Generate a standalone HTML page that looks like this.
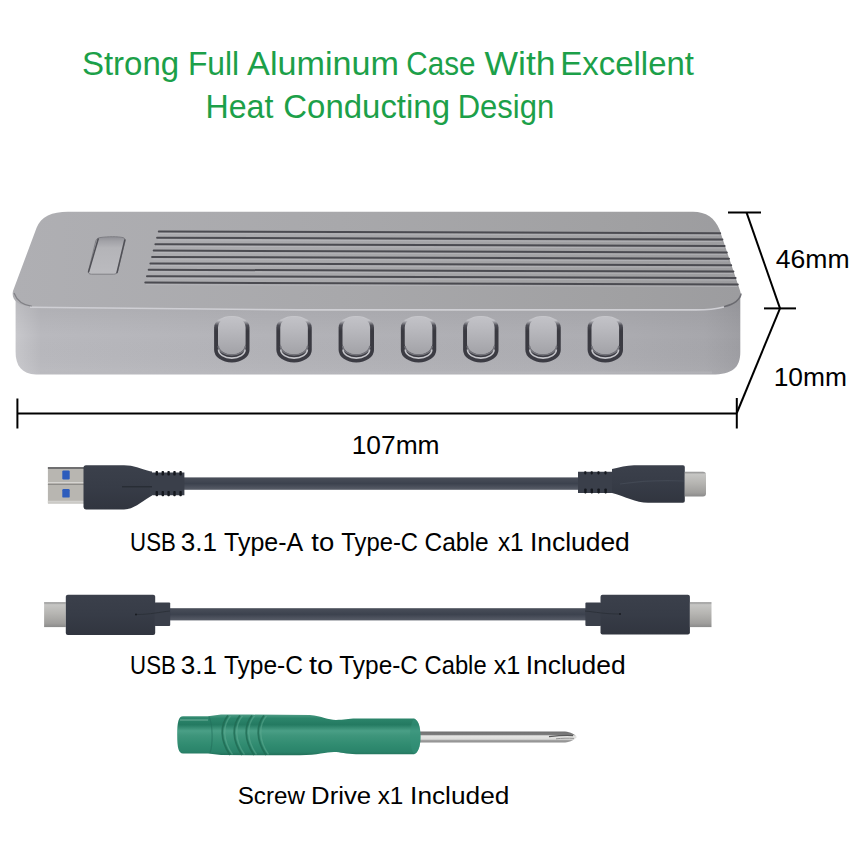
<!DOCTYPE html>
<html><head><meta charset="utf-8">
<style>
html,body{margin:0;padding:0;background:#fff;width:850px;height:850px;overflow:hidden}
svg{display:block}
text{font-family:"Liberation Sans",sans-serif}
</style></head>
<body>
<svg width="850" height="850" viewBox="0 0 850 850">
<defs>
  <linearGradient id="sideG" x1="0" y1="0" x2="1" y2="0">
    <stop offset="0" stop-color="#c8c8cc"/>
    <stop offset="0.035" stop-color="#b9b9be"/>
    <stop offset="0.4" stop-color="#b2b2b7"/>
    <stop offset="0.8" stop-color="#adadb2"/>
    <stop offset="0.95" stop-color="#a7a7ac"/>
    <stop offset="1" stop-color="#9e9ea3"/>
  </linearGradient>
  <linearGradient id="sideV" x1="0" y1="0" x2="0" y2="1">
    <stop offset="0" stop-color="#000" stop-opacity="0.07"/>
    <stop offset="0.5" stop-color="#000" stop-opacity="0"/>
    <stop offset="1" stop-color="#fff" stop-opacity="0.05"/>
  </linearGradient>
  <linearGradient id="topG" x1="0" y1="0" x2="1" y2="0">
    <stop offset="0" stop-color="#afafb3"/>
    <stop offset="0.45" stop-color="#a8a8ab"/>
    <stop offset="0.85" stop-color="#a0a0a2"/>
    <stop offset="1" stop-color="#9c9c9f"/>
  </linearGradient>
  <linearGradient id="slotG" x1="0" y1="0" x2="0" y2="1">
    <stop offset="0" stop-color="#8f8f95"/>
    <stop offset="0.12" stop-color="#a2a2a7"/>
    <stop offset="0.3" stop-color="#b4b4b8"/>
    <stop offset="1" stop-color="#bbbbbf"/>
  </linearGradient>
  <linearGradient id="btnOut" x1="0" y1="0" x2="0" y2="1">
    <stop offset="0" stop-color="#cbcbcf"/>
    <stop offset="0.1" stop-color="#bfbfc4"/>
    <stop offset="0.2" stop-color="#4e4e56"/>
    <stop offset="0.32" stop-color="#393940"/>
    <stop offset="1" stop-color="#3c3c44"/>
  </linearGradient>
  <linearGradient id="btnIn" x1="0" y1="0" x2="0" y2="1">
    <stop offset="0" stop-color="#c3c3c8"/>
    <stop offset="0.45" stop-color="#b5b5ba"/>
    <stop offset="1" stop-color="#a2a2a7"/>
  </linearGradient>
  <linearGradient id="metalA" x1="0" y1="0" x2="0" y2="1">
    <stop offset="0" stop-color="#d0d0d0"/>
    <stop offset="0.45" stop-color="#bdbdbd"/>
    <stop offset="0.5" stop-color="#8f8f8f"/>
    <stop offset="0.56" stop-color="#c4c4c4"/>
    <stop offset="1" stop-color="#a8a8a8"/>
  </linearGradient>
  <linearGradient id="metalC" x1="0" y1="0" x2="0" y2="1">
    <stop offset="0" stop-color="#8e8e8e"/>
    <stop offset="0.1" stop-color="#c6c6c4"/>
    <stop offset="0.45" stop-color="#b6b5b2"/>
    <stop offset="0.85" stop-color="#9f9e9c"/>
    <stop offset="1" stop-color="#8a8a8a"/>
  </linearGradient>
  <linearGradient id="cableG" x1="0" y1="0" x2="0" y2="1">
    <stop offset="0" stop-color="#4a4f5a"/>
    <stop offset="0.5" stop-color="#3c424e"/>
    <stop offset="1" stop-color="#585d68"/>
  </linearGradient>
  <linearGradient id="housG" x1="0" y1="0" x2="0" y2="1">
    <stop offset="0" stop-color="#3b404b"/>
    <stop offset="0.5" stop-color="#373c47"/>
    <stop offset="1" stop-color="#31353f"/>
  </linearGradient>
  <linearGradient id="sdG" x1="0" y1="0" x2="0" y2="1">
    <stop offset="0" stop-color="#4f9c85"/>
    <stop offset="0.09" stop-color="#2c856b"/>
    <stop offset="0.25" stop-color="#247a61"/>
    <stop offset="0.4" stop-color="#4a9f86"/>
    <stop offset="0.52" stop-color="#3e957b"/>
    <stop offset="0.75" stop-color="#308b70"/>
    <stop offset="0.92" stop-color="#2a836a"/>
    <stop offset="1" stop-color="#23705a"/>
  </linearGradient>
  <linearGradient id="shaftG" x1="0" y1="0" x2="0" y2="1">
    <stop offset="0" stop-color="#707070"/>
    <stop offset="0.3" stop-color="#7e7e7e"/>
    <stop offset="0.38" stop-color="#e6e6e4"/>
    <stop offset="0.7" stop-color="#dcdcda"/>
    <stop offset="0.8" stop-color="#a2a2a2"/>
    <stop offset="1" stop-color="#8c8c8c"/>
  </linearGradient>
</defs>
<path d="M15.6 296 H740.3 V352 C740.3 368 732 374.5 712 374.5 H36 C22 374 15.6 366 15.6 352 Z" fill="url(#sideG)"/>
<path d="M15.6 296 H740.3 V352 C740.3 368 732 374.5 712 374.5 H36 C22 374 15.6 366 15.6 352 Z" fill="url(#sideV)"/>
<path d="M40 372.5 H712" stroke="#b9b9be" stroke-width="2" opacity="0.5"/>
<path d="M68 211.8 H693 C706 211.8 715 218 719.5 229.6 L740 290.5 C742.6 298 738.5 304 728 305.6 C721 307 712 309.8 695 310.2 H300 L30 306.2 C18 305.2 11 300 13 291 L36.5 228 C41 216.5 52 211.8 68 211.8 Z" fill="url(#topG)"/>
<path d="M14 293 C17 301 22 305 32 306.4" stroke="#6e6e74" stroke-width="1.2" fill="none" opacity="0.7"/>
<path d="M30 307.2 L300 309.9 H695 C710 310 718 308.5 724 307" stroke="#cfcfd4" stroke-width="1.6" fill="none"/>
<path d="M724 306.6 C733 304.5 740 300 741.2 293.5" stroke="#5e5e64" stroke-width="1.4" fill="none" opacity="0.8"/>
<path d="M100 237.6 C108 236.4 118 236.4 123 237.6 C125 238.2 125.6 239.5 125 241.5 L117.6 271.5 C117 273.5 115.5 274.2 113.5 274.2 H91.5 C89 274.2 88 273 88.5 271 L95.8 241 C96.4 239 97.8 238 100 237.6 Z" fill="url(#slotG)"/>
<path d="M100 237.6 C108 236.4 118 236.4 123 237.6 C125 238.2 125.6 239.5 125 241.5 L117.6 271.5 C117 273.5 115.5 274.2 113.5 274.2 H91.5 C89 274.2 88 273 88.5 271 L95.8 241 C96.4 239 97.8 238 100 237.6 Z" fill="none" stroke="#7a7a80" stroke-width="0.9"/>
<path d="M98.2 239 L88.6 271.8" stroke="#505056" stroke-width="1.5" fill="none" stroke-linecap="round"/>
<path d="M124.8 240 L117 272.6" stroke="#505056" stroke-width="1.5" fill="none" stroke-linecap="round"/>
<g stroke-linecap="round"><path d="M158.8 231.4 L720.2 233.2" stroke="#4b4b51" stroke-width="2"/><path d="M159.8 233.4 L719.2 235.2" stroke="#bdbdc2" stroke-width="1" opacity="0.6"/><path d="M157.1 237.8 L722.4 239.6" stroke="#4b4b51" stroke-width="2"/><path d="M158.1 239.8 L721.4 241.6" stroke="#bdbdc2" stroke-width="1" opacity="0.6"/><path d="M155.4 244.2 L724.6 246.0" stroke="#4b4b51" stroke-width="2"/><path d="M156.4 246.2 L723.6 248.0" stroke="#bdbdc2" stroke-width="1" opacity="0.6"/><path d="M153.7 250.6 L726.8 252.4" stroke="#4b4b51" stroke-width="2"/><path d="M154.7 252.6 L725.8 254.4" stroke="#bdbdc2" stroke-width="1" opacity="0.6"/><path d="M152.1 257.0 L729.0 258.8" stroke="#4b4b51" stroke-width="2"/><path d="M153.1 259.0 L728.0 260.8" stroke="#bdbdc2" stroke-width="1" opacity="0.6"/><path d="M150.4 263.4 L731.2 265.2" stroke="#4b4b51" stroke-width="2"/><path d="M151.4 265.4 L730.2 267.2" stroke="#bdbdc2" stroke-width="1" opacity="0.6"/><path d="M148.7 269.8 L733.4 271.6" stroke="#4b4b51" stroke-width="2"/><path d="M149.7 271.8 L732.4 273.6" stroke="#bdbdc2" stroke-width="1" opacity="0.6"/><path d="M147.0 276.2 L735.6 278.0" stroke="#4b4b51" stroke-width="2"/><path d="M148.0 278.2 L734.6 280.0" stroke="#bdbdc2" stroke-width="1" opacity="0.6"/><path d="M145.3 282.6 L737.8 284.4" stroke="#4b4b51" stroke-width="2"/><path d="M146.3 284.6 L736.8 286.4" stroke="#bdbdc2" stroke-width="1" opacity="0.6"/></g>
<g transform="translate(214.10 316.0)">
<path d="M0 11.5 A17.7 11.5 0 0 1 35.4 11.5 V34 A17.7 12.5 0 0 1 0 34 Z" fill="url(#btnOut)"/>
<path d="M3.9 11.5 A13.8 11 0 0 1 31.5 11.5 V28 A13.8 10.5 0 0 1 3.9 28 Z" fill="url(#btnIn)"/>
<path d="M4.2 30 A13.5 9 0 0 0 31.2 30" stroke="#74747b" stroke-width="1.6" fill="none"/>
<path d="M4.4 33.5 A13.3 8.6 0 0 0 31 33.5" stroke="#c4c4c9" stroke-width="1.6" fill="none"/>
</g><g transform="translate(276.35 316.0)">
<path d="M0 11.5 A17.7 11.5 0 0 1 35.4 11.5 V34 A17.7 12.5 0 0 1 0 34 Z" fill="url(#btnOut)"/>
<path d="M3.9 11.5 A13.8 11 0 0 1 31.5 11.5 V28 A13.8 10.5 0 0 1 3.9 28 Z" fill="url(#btnIn)"/>
<path d="M4.2 30 A13.5 9 0 0 0 31.2 30" stroke="#74747b" stroke-width="1.6" fill="none"/>
<path d="M4.4 33.5 A13.3 8.6 0 0 0 31 33.5" stroke="#c4c4c9" stroke-width="1.6" fill="none"/>
</g><g transform="translate(338.60 316.0)">
<path d="M0 11.5 A17.7 11.5 0 0 1 35.4 11.5 V34 A17.7 12.5 0 0 1 0 34 Z" fill="url(#btnOut)"/>
<path d="M3.9 11.5 A13.8 11 0 0 1 31.5 11.5 V28 A13.8 10.5 0 0 1 3.9 28 Z" fill="url(#btnIn)"/>
<path d="M4.2 30 A13.5 9 0 0 0 31.2 30" stroke="#74747b" stroke-width="1.6" fill="none"/>
<path d="M4.4 33.5 A13.3 8.6 0 0 0 31 33.5" stroke="#c4c4c9" stroke-width="1.6" fill="none"/>
</g><g transform="translate(400.85 316.0)">
<path d="M0 11.5 A17.7 11.5 0 0 1 35.4 11.5 V34 A17.7 12.5 0 0 1 0 34 Z" fill="url(#btnOut)"/>
<path d="M3.9 11.5 A13.8 11 0 0 1 31.5 11.5 V28 A13.8 10.5 0 0 1 3.9 28 Z" fill="url(#btnIn)"/>
<path d="M4.2 30 A13.5 9 0 0 0 31.2 30" stroke="#74747b" stroke-width="1.6" fill="none"/>
<path d="M4.4 33.5 A13.3 8.6 0 0 0 31 33.5" stroke="#c4c4c9" stroke-width="1.6" fill="none"/>
</g><g transform="translate(463.10 316.0)">
<path d="M0 11.5 A17.7 11.5 0 0 1 35.4 11.5 V34 A17.7 12.5 0 0 1 0 34 Z" fill="url(#btnOut)"/>
<path d="M3.9 11.5 A13.8 11 0 0 1 31.5 11.5 V28 A13.8 10.5 0 0 1 3.9 28 Z" fill="url(#btnIn)"/>
<path d="M4.2 30 A13.5 9 0 0 0 31.2 30" stroke="#74747b" stroke-width="1.6" fill="none"/>
<path d="M4.4 33.5 A13.3 8.6 0 0 0 31 33.5" stroke="#c4c4c9" stroke-width="1.6" fill="none"/>
</g><g transform="translate(525.35 316.0)">
<path d="M0 11.5 A17.7 11.5 0 0 1 35.4 11.5 V34 A17.7 12.5 0 0 1 0 34 Z" fill="url(#btnOut)"/>
<path d="M3.9 11.5 A13.8 11 0 0 1 31.5 11.5 V28 A13.8 10.5 0 0 1 3.9 28 Z" fill="url(#btnIn)"/>
<path d="M4.2 30 A13.5 9 0 0 0 31.2 30" stroke="#74747b" stroke-width="1.6" fill="none"/>
<path d="M4.4 33.5 A13.3 8.6 0 0 0 31 33.5" stroke="#c4c4c9" stroke-width="1.6" fill="none"/>
</g><g transform="translate(587.60 316.0)">
<path d="M0 11.5 A17.7 11.5 0 0 1 35.4 11.5 V34 A17.7 12.5 0 0 1 0 34 Z" fill="url(#btnOut)"/>
<path d="M3.9 11.5 A13.8 11 0 0 1 31.5 11.5 V28 A13.8 10.5 0 0 1 3.9 28 Z" fill="url(#btnIn)"/>
<path d="M4.2 30 A13.5 9 0 0 0 31.2 30" stroke="#74747b" stroke-width="1.6" fill="none"/>
<path d="M4.4 33.5 A13.3 8.6 0 0 0 31 33.5" stroke="#c4c4c9" stroke-width="1.6" fill="none"/>
</g>
<g stroke="#000" stroke-width="2" fill="none">
  <path d="M17.4 413.5 H737"/>
  <path d="M17.4 398.5 V428.5"/>
  <path d="M736.8 398 V428.5"/>
  <path d="M728 212.4 H761"/>
  <path d="M746.5 212.4 L780 308.4"/>
  <path d="M764 308.4 H796"/>
  <path d="M780 308.4 L736.8 413"/>
</g>
<g id="cable1">
<rect x="180" y="477.4" width="402" height="12.4" fill="url(#cableG)"/>
<rect x="47.9" y="467" width="37" height="36.6" fill="#b8b6b1"/>
<path d="M47.9 468 H85" stroke="#6f6f70" stroke-width="1.8"/>
<path d="M47.9 482.6 H85" stroke="#d6d5d2" stroke-width="1.2"/>
<path d="M47.9 484.4 H85" stroke="#8e8d8a" stroke-width="1.2"/>
<path d="M47.9 501.8 H85" stroke="#d2d1ce" stroke-width="2"/>
<rect x="62.3" y="470.4" width="7.4" height="9" rx="1.2" fill="#2d5cbc"/>
<rect x="62.3" y="489.1" width="7.4" height="8.5" rx="1.2" fill="#2d5cbc"/>
<path d="M86 465.2 H124 C134 465.2 140 468.6 150 471.2 L152 471.6 V495.6 L150 496.8 C140 502.5 134 509.4 124 509.4 H86 Q83.5 509.4 83.5 507 V467.7 Q83.5 465.2 86 465.2 Z" fill="url(#housG)"/>
<path d="M150 472.4 H184.4 V495.2 H150 Z" fill="#3a3f4a"/>
<g fill="#15181e"><rect x="155.6" y="471" width="2.4" height="4.6" rx="0.8"/><rect x="155.6" y="491" width="2.4" height="5.2" rx="0.8"/><rect x="161.6" y="471" width="2.4" height="4.6" rx="0.8"/><rect x="161.6" y="491" width="2.4" height="5.2" rx="0.8"/><rect x="167.4" y="471" width="2.4" height="4.6" rx="0.8"/><rect x="167.4" y="491" width="2.4" height="5.2" rx="0.8"/><rect x="173.3" y="471" width="2.4" height="4.6" rx="0.8"/><rect x="173.3" y="491" width="2.4" height="5.2" rx="0.8"/><rect x="179.4" y="471" width="2.4" height="4.6" rx="0.8"/><rect x="179.4" y="491" width="2.4" height="5.2" rx="0.8"/></g>
<path d="M122 486.8 H152" stroke="#23272e" stroke-width="1"/>
<path d="M578 471.8 H612.6 V492.9 H578 Z" fill="#3a3f4a"/>
<g fill="#15181e"><rect x="584.2" y="488.4" width="2.4" height="5" rx="0.8"/><rect x="584.2" y="471.2" width="2.2" height="3.2" rx="0.8"/><rect x="590.6" y="488.4" width="2.4" height="5" rx="0.8"/><rect x="590.6" y="471.2" width="2.2" height="3.2" rx="0.8"/><rect x="597.4" y="488.4" width="2.4" height="5" rx="0.8"/><rect x="597.4" y="471.2" width="2.2" height="3.2" rx="0.8"/><rect x="604.4" y="488.4" width="2.4" height="5" rx="0.8"/><rect x="604.4" y="471.2" width="2.2" height="3.2" rx="0.8"/></g>
<path d="M612 469.1 C620 467.5 626 465.2 634 465.2 H683 Q684.8 465.2 684.8 467 V501 Q684.8 502.8 683 502.8 H648 C636 502.8 624 496 612 492.9 Z" fill="url(#housG)"/>
<path d="M620 484 C640 481 660 480 684 481" stroke="#4a505b" stroke-width="1.2" fill="none" opacity="0.6"/>
<path d="M684.8 471.8 H703 Q706 471.8 706 474.8 V493.5 Q706 496.5 703 496.5 H684.8 Z" fill="url(#metalC)"/>
</g>
<g id="cable2">
<rect x="168" y="608.2" width="420" height="12.2" fill="url(#cableG)"/>
<path d="M44.1 602.2 H65.8 V627.1 H44.1 Z" fill="url(#metalC)"/>
<rect x="65.8" y="594.7" width="89.4" height="40.3" rx="2" fill="url(#housG)"/>
<rect x="154.5" y="602.6" width="15.7" height="23.5" rx="1" fill="#3a3f4a"/>
<circle cx="136" cy="614.5" r="0.9" fill="#15181d"/>
<path d="M137 614.5 C150 614.5 160 612 170 611" stroke="#2a2e36" stroke-width="0.8" fill="none"/>
<rect x="585.4" y="602.6" width="15.7" height="23.5" rx="1" fill="#3a3f4a"/>
<rect x="600.5" y="594.7" width="89.4" height="39.9" rx="2" fill="url(#housG)"/>
<circle cx="620" cy="614" r="0.9" fill="#15181d"/>
<path d="M585 611 C595 612 605 614 619 614" stroke="#2a2e36" stroke-width="0.8" fill="none"/>
<path d="M689.9 602.2 H711.5 V627.1 H689.9 Z" fill="url(#metalC)"/>
</g>
<g id="sd">
<path d="M416 731.6 H565 C570.5 732 575 734.5 576.8 737 C575 739.5 570.5 742.2 565 742.5 H416 Z" fill="url(#shaftG)"/>
<path d="M549 736.6 C558 735.6 566 735 573 735.6" stroke="#5a5a5a" stroke-width="1.1" fill="none"/>
<path d="M556 738.8 C562 738.2 568 738 574 738.4" stroke="#8a8a8a" stroke-width="0.9" fill="none"/>
<path d="M183 716.2 H208 L221 714.6 L252 714.6 L310 715 C322 716 328 720 336 720 C344 720 348 718.6 356 718.6 H414 C418 720 420.5 726 420.5 736.5 C420.5 747 418 753 414 754.2 H356 C346 754.2 340 752 334 752 C326 752 318 755.2 300 755.2 H252 L221 755 L208 753.4 H183 C178.5 753.4 177.2 748 177.2 735 C177.2 722 178.5 716.2 183 716.2 Z" fill="url(#sdG)"/>
<path d="M414 718.6 C418 720 420.5 726 420.5 736.5 C420.5 747 418 753 414 754.2 C411 750 410 743 410 736.5 C410 730 411 723 414 718.6 Z" fill="#33917a" opacity="0.5"/>
<path d="M228 715.5 C220 725 220 740 230 755" stroke="#1f6a53" stroke-width="1.8" fill="none" opacity="0.8"/><path d="M230.5 716 C222.5 725 222.5 740 232.5 754.5" stroke="#62ad94" stroke-width="1.4" fill="none" opacity="0.5"/><path d="M240 715.5 C232 725 232 740 242 755" stroke="#1f6a53" stroke-width="1.8" fill="none" opacity="0.8"/><path d="M242.5 716 C234.5 725 234.5 740 244.5 754.5" stroke="#62ad94" stroke-width="1.4" fill="none" opacity="0.5"/><path d="M252 715.5 C244 725 244 740 254 755" stroke="#1f6a53" stroke-width="1.8" fill="none" opacity="0.8"/><path d="M254.5 716 C246.5 725 246.5 740 256.5 754.5" stroke="#62ad94" stroke-width="1.4" fill="none" opacity="0.5"/><path d="M264 715.5 C256 725 256 740 266 755" stroke="#1f6a53" stroke-width="1.8" fill="none" opacity="0.8"/><path d="M266.5 716 C258.5 725 258.5 740 268.5 754.5" stroke="#62ad94" stroke-width="1.4" fill="none" opacity="0.5"/>
<path d="M208.8 716.5 C213 724 213 745 210 753" stroke="#23705b" stroke-width="1.2" fill="none" opacity="0.6"/>
<path d="M180 720 H208" stroke="#6fb09b" stroke-width="2" opacity="0.5"/>
</g>
<text x="81.90" y="74.5" font-size="32.6" fill="#1ca049" textLength="97.30" lengthAdjust="spacingAndGlyphs">Strong</text>
<text x="187.90" y="74.5" font-size="32.6" fill="#1ca049" textLength="51.30" lengthAdjust="spacingAndGlyphs">Full</text>
<text x="247.10" y="74.5" font-size="32.6" fill="#1ca049" textLength="151.90" lengthAdjust="spacingAndGlyphs">Aluminum</text>
<text x="406.30" y="74.5" font-size="32.6" fill="#1ca049" textLength="69.10" lengthAdjust="spacingAndGlyphs">Case</text>
<text x="484.50" y="74.5" font-size="32.6" fill="#1ca049" textLength="71.10" lengthAdjust="spacingAndGlyphs">With</text>
<text x="560.30" y="74.5" font-size="32.6" fill="#1ca049" textLength="133.70" lengthAdjust="spacingAndGlyphs">Excellent</text>
<text x="205.50" y="118" font-size="32.6" fill="#1ca049" textLength="67.90" lengthAdjust="spacingAndGlyphs">Heat</text>
<text x="283.30" y="118" font-size="32.6" fill="#1ca049" textLength="166.70" lengthAdjust="spacingAndGlyphs">Conducting</text>
<text x="457.70" y="118" font-size="32.6" fill="#1ca049" textLength="96.50" lengthAdjust="spacingAndGlyphs">Design</text>
<text x="775.70" y="267.5" font-size="25" fill="#000" textLength="73.90" lengthAdjust="spacingAndGlyphs">46mm</text>
<text x="773.70" y="386" font-size="25" fill="#000" textLength="73.30" lengthAdjust="spacingAndGlyphs">10mm</text>
<text x="351.70" y="454" font-size="25" fill="#000" textLength="87.90" lengthAdjust="spacingAndGlyphs">107mm</text>
<text x="130.10" y="551" font-size="25.4" fill="#000" textLength="45.70" lengthAdjust="spacingAndGlyphs">USB</text>
<text x="180.70" y="551" font-size="25.4" fill="#000" textLength="36.30" lengthAdjust="spacingAndGlyphs">3.1</text>
<text x="224.10" y="551" font-size="25.4" fill="#000" textLength="79.10" lengthAdjust="spacingAndGlyphs">Type-A</text>
<text x="311.30" y="551" font-size="25.4" fill="#000" textLength="22.90" lengthAdjust="spacingAndGlyphs">to</text>
<text x="341.30" y="551" font-size="25.4" fill="#000" textLength="76.70" lengthAdjust="spacingAndGlyphs">Type-C</text>
<text x="424.50" y="551" font-size="25.4" fill="#000" textLength="64.10" lengthAdjust="spacingAndGlyphs">Cable</text>
<text x="497.90" y="551" font-size="25.4" fill="#000" textLength="25.70" lengthAdjust="spacingAndGlyphs">x1</text>
<text x="529.90" y="551" font-size="25.4" fill="#000" textLength="99.90" lengthAdjust="spacingAndGlyphs">Included</text>
<text x="130.10" y="674" font-size="25.4" fill="#000" textLength="45.70" lengthAdjust="spacingAndGlyphs">USB</text>
<text x="180.70" y="674" font-size="25.4" fill="#000" textLength="36.30" lengthAdjust="spacingAndGlyphs">3.1</text>
<text x="223.90" y="674" font-size="25.4" fill="#000" textLength="79.10" lengthAdjust="spacingAndGlyphs">Type-C</text>
<text x="308.90" y="674" font-size="25.4" fill="#000" textLength="24.30" lengthAdjust="spacingAndGlyphs">to</text>
<text x="339.30" y="674" font-size="25.4" fill="#000" textLength="78.70" lengthAdjust="spacingAndGlyphs">Type-C</text>
<text x="424.50" y="674" font-size="25.4" fill="#000" textLength="62.10" lengthAdjust="spacingAndGlyphs">Cable</text>
<text x="493.70" y="674" font-size="25.4" fill="#000" textLength="26.70" lengthAdjust="spacingAndGlyphs">x1</text>
<text x="525.70" y="674" font-size="25.4" fill="#000" textLength="99.90" lengthAdjust="spacingAndGlyphs">Included</text>
<text x="237.70" y="803.6" font-size="24.8" fill="#000" textLength="67.30" lengthAdjust="spacingAndGlyphs">Screw</text>
<text x="311.10" y="803.6" font-size="24.8" fill="#000" textLength="60.10" lengthAdjust="spacingAndGlyphs">Drive</text>
<text x="377.70" y="803.6" font-size="24.8" fill="#000" textLength="25.70" lengthAdjust="spacingAndGlyphs">x1</text>
<text x="410.10" y="803.6" font-size="24.8" fill="#000" textLength="99.30" lengthAdjust="spacingAndGlyphs">Included</text>
</svg>
</body></html>
